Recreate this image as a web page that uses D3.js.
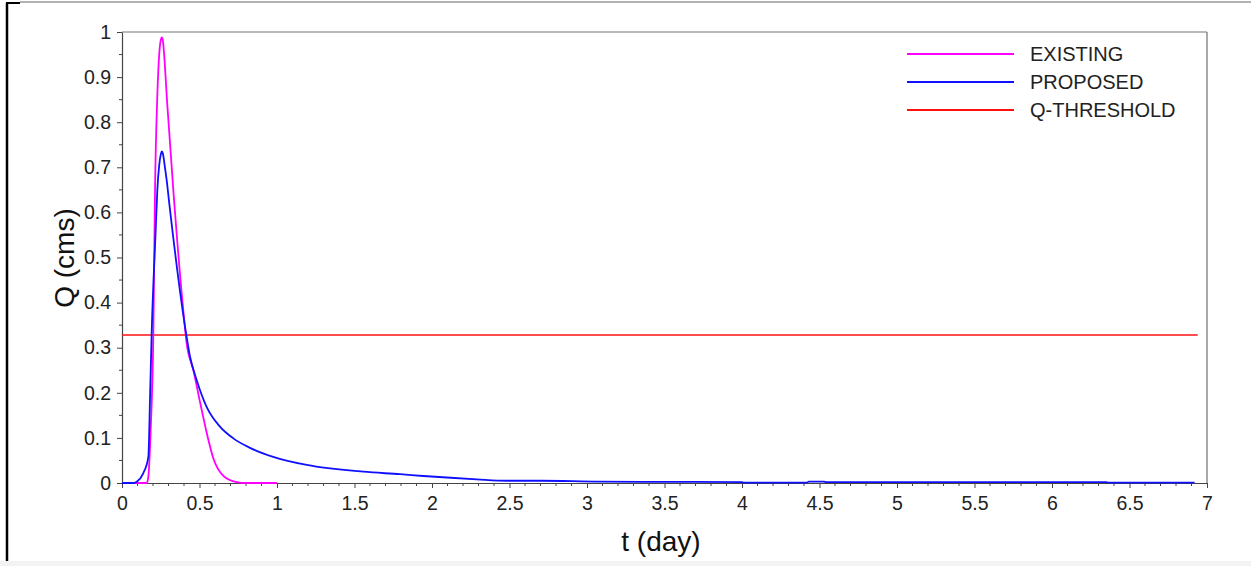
<!DOCTYPE html>
<html><head><meta charset="utf-8">
<script src="https://cdn.jsdelivr.net/npm/d3@7"></script>
<style>body{margin:0;background:#fff;}svg{display:block;font-family:"Liberation Sans",Arial,sans-serif;}</style>
</head><body>
<svg id="c" width="1251" height="566"></svg>
<script>
const existingT = [0, 0.16, 0.17, 0.185, 0.202, 0.213, 0.228, 0.24, 0.25, 0.257, 0.264, 0.274, 0.29, 0.331, 0.395, 0.417, 0.46, 0.503, 0.546, 0.589, 0.654, 0.74, 0.8, 1.0];
const existingQ = [0, 0, 0.014, 0.118, 0.326, 0.65, 0.86, 0.95, 0.982, 0.988, 0.98, 0.94, 0.85, 0.65, 0.384, 0.31, 0.251, 0.18, 0.112, 0.055, 0.016, 0.002, 0, 0];
const proposedT = [0, 0.07, 0.095, 0.137, 0.17, 0.181, 0.192, 0.216, 0.228, 0.24, 0.25, 0.257, 0.264, 0.275, 0.288, 0.305, 0.417, 0.439, 0.482, 0.546, 0.632, 0.718, 0.826, 0.976, 1.192, 1.557, 1.794, 1.944, 2.29, 2.48, 2.7, 3.08, 4.0, 4.01, 4.42, 4.43, 4.53, 4.54, 6.35, 6.36, 6.92];
const proposedQ = [0, 0, 0.003, 0.0215, 0.058, 0.191, 0.339, 0.55, 0.65, 0.705, 0.728, 0.735, 0.73, 0.705, 0.672, 0.62, 0.324, 0.28, 0.228, 0.169, 0.125, 0.099, 0.078, 0.058, 0.04, 0.025, 0.0195, 0.0155, 0.008, 0.005, 0.005, 0.003, 0.002, 0.001, 0.001, 0.003, 0.003, 0.002, 0.002, 0.001, 0.001];
const thresholdQ = 0.328;
const thresholdT = [0, 6.94];
const xTicks = [0, 0.5, 1, 1.5, 2, 2.5, 3, 3.5, 4, 4.5, 5, 5.5, 6, 6.5, 7];
const yTicks = [0, 0.1, 0.2, 0.3, 0.4, 0.5, 0.6, 0.7, 0.8, 0.9, 1];
const legendLabels = ["EXISTING", "PROPOSED", "Q-THRESHOLD"];
const colors = ["#ff00ff", "#1010ff", "#ff1010"];

const svg = d3.select("#c");
// outer frame of the image
svg.append("line").attr("x1",7).attr("x2",7).attr("y1",3).attr("y2",566).attr("stroke","#000").attr("stroke-width",2.5);
svg.append("line").attr("x1",6).attr("x2",20).attr("y1",3).attr("y2",3).attr("stroke","#000").attr("stroke-width",2);
svg.append("line").attr("x1",20).attr("x2",1251).attr("y1",2).attr("y2",2).attr("stroke","#999").attr("stroke-width",1.5);
svg.append("rect").attr("x",0).attr("y",561).attr("width",1251).attr("height",5).attr("fill","#f3f3f3");

const x = d3.scaleLinear().domain([0,7]).range([122,1207]);
const y = d3.scaleLinear().domain([0,1]).range([483,32]);

// box
svg.append("line").attr("x1",122).attr("x2",1207).attr("y1",32).attr("y2",32).attr("stroke","#777").attr("stroke-width",1.2);
svg.append("line").attr("x1",1207).attr("x2",1207).attr("y1",32).attr("y2",483).attr("stroke","#555").attr("stroke-width",1);

// minor ticks
const xMinor = d3.range(0, 70).map(i => i/10).filter(v => Math.abs(v*2 - Math.round(v*2)) > 1e-6);
const yMinor = d3.range(0, 10).map(i => i/10 + 0.05);
svg.append("g").selectAll("line").data(xMinor).join("line")
  .attr("x1",d=>x(d)).attr("x2",d=>x(d)).attr("y1",483).attr("y2",486).attr("stroke","#444");
svg.append("g").selectAll("line").data(yMinor).join("line")
  .attr("x1",119).attr("x2",122).attr("y1",d=>y(d)).attr("y2",d=>y(d)).attr("stroke","#444");

const fmt = d => d === 0 ? "0" : String(+d.toFixed(1));
const gx = svg.append("g").attr("transform","translate(0,483)")
  .call(d3.axisBottom(x).tickValues(xTicks).tickFormat(fmt).tickSize(5).tickPadding(8).tickSizeOuter(0));
const gy = svg.append("g").attr("transform","translate(122,0)")
  .call(d3.axisLeft(y).tickValues(yTicks).tickFormat(fmt).tickSize(5).tickPadding(6).tickSizeOuter(0));
[gx, gy].forEach(g => {
  g.select(".domain").attr("stroke","#444").attr("stroke-width",1.2);
  g.selectAll(".tick line").attr("stroke","#444");
  g.selectAll(".tick text").attr("fill","#222").style("font-size","19.5px").style("font-family","'Liberation Sans',Arial,sans-serif");
});

// axis titles
svg.append("text").attr("x",661).attr("y",551).attr("text-anchor","middle")
  .style("font-size","28px").attr("fill","#111").text("t (day)");
svg.append("text").attr("transform","translate(74,258) rotate(-90)").attr("text-anchor","middle")
  .style("font-size","28px").attr("fill","#111").text("Q (cms)");

const line = d3.line().x(d=>x(d[0])).y(d=>y(d[1])).curve(d3.curveMonotoneX);
const plot = svg.append("g");
plot.append("path").datum(thresholdT.map(t=>[t,thresholdQ])).attr("d",line)
  .attr("fill","none").attr("stroke",colors[2]).attr("stroke-width",1.6);
plot.append("path").datum(existingT.map((t,i)=>[t,existingQ[i]])).attr("d",line)
  .attr("fill","none").attr("stroke",colors[0]).attr("stroke-width",1.8).attr("stroke-linejoin","round");
plot.append("path").datum(proposedT.map((t,i)=>[t,proposedQ[i]])).attr("d",line)
  .attr("fill","none").attr("stroke",colors[1]).attr("stroke-width",1.8).attr("stroke-linejoin","round");

// legend
const lg = svg.append("g");
legendLabels.forEach((lab,i) => {
  const yy = 54 + i*28;
  lg.append("line").attr("x1",907).attr("x2",1014).attr("y1",yy).attr("y2",yy)
    .attr("stroke",colors[i]).attr("stroke-width",1.8);
  lg.append("text").attr("x",1030).attr("y",yy+7).style("font-size","20px").attr("fill","#222").text(lab);
});
</script>
</body></html>
